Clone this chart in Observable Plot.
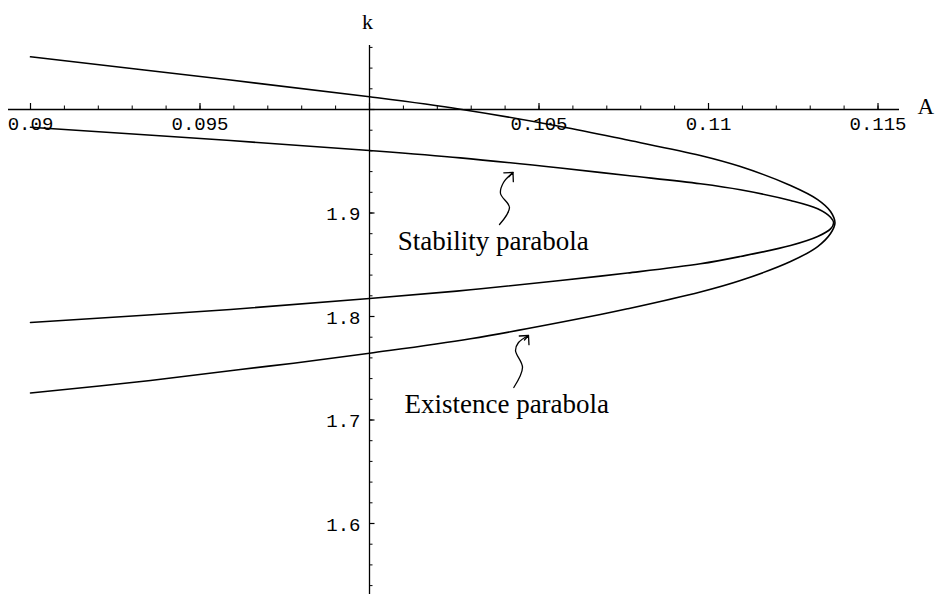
<!DOCTYPE html>
<html><head><meta charset="utf-8">
<script src="https://cdn.jsdelivr.net/npm/d3@7"></script>
<script src="https://cdn.jsdelivr.net/npm/@observablehq/plot@0.6"></script>
<style>html,body{margin:0;padding:0;background:#fff;} #chart svg{display:block;}</style>
</head><body><div id="chart"></div>
<script>
// Existence parabola (outer), traced from upper-left round the vertex to lower-left
const existenceA = [0.09, 0.0959, 0.1, 0.10268, 0.10563, 0.10761, 0.10976, 0.11094, 0.11242, 0.11322, 0.1136, 0.11373,
                    0.1136, 0.11322, 0.11242, 0.11094, 0.10976, 0.10761, 0.10681, 0.10298, 0.1, 0.09776, 0.09619, 0.09354, 0.09];
const existenceK = [2.0509, 2.0285, 2.0123, 2.0003, 1.9836, 1.9705, 1.9556, 1.9449, 1.9266, 1.9130, 1.9015, 1.8903,
                    1.8802, 1.8676, 1.8531, 1.8348, 1.8237, 1.8074, 1.8019, 1.7785, 1.7645, 1.7549, 1.7488, 1.7382, 1.7261];
// Stability parabola (inner)
const stabilityA = [0.09, 0.0959, 0.1, 0.10268, 0.10563, 0.10761, 0.10976, 0.11094, 0.11242, 0.11322, 0.1136, 0.11369,
                    0.1136, 0.11322, 0.11242, 0.11094, 0.10976, 0.10761, 0.10563, 0.10298, 0.1, 0.0959, 0.09];
const stabilityK = [1.9829, 1.9700, 1.9604, 1.9533, 1.9435, 1.9362, 1.9282, 1.9224, 1.9121, 1.9041, 1.8959, 1.8905,
                    1.8847, 1.8773, 1.8686, 1.8580, 1.8509, 1.8420, 1.8348, 1.8258, 1.8174, 1.8068, 1.7942];
// Annotation labels and their squiggly pointer arrows (data coordinates)
const labelText = ["Stability parabola", "Existence parabola"];
const labelA = [0.10083, 0.10103];
const labelK = [1.8638, 1.7063];
const stabArrowA = [0.103835, 0.10413, 0.103864, 0.103953, 0.104233];
const stabArrowK = [1.88889, 1.90531, 1.91884, 1.92947, 1.93913];
const exArrowA = [0.104257, 0.104513, 0.104307, 0.104395, 0.10469];
const exArrowK = [1.7314, 1.75072, 1.76715, 1.77488, 1.78164];
// Axis ticks and labels
const xMajor = [0.09, 0.095, 0.1, 0.105, 0.11, 0.115];
const xLabels = [0.09, 0.095, 0.105, 0.11, 0.115];
const xMinor = d3.range(90, 116).map(i => i / 1000);
const yMajor = [1.6, 1.7, 1.8, 1.9, 2.0];
const yLabels = [1.6, 1.7, 1.8, 1.9];
const yMinor = d3.range(77, 104).map(i => i / 50);
const axisA = 0.1, axisK = 2.0;

const W = 936, H = 594, mL = 8, mR = 37, mT = 45, mB = 0;
const A0 = 0.089351, A1 = 0.115634, K0 = 1.5314, K1 = 2.06184;
const kPerPx = (K1 - K0) / (H - mT - mB);
const aPerPx = (A1 - A0) / (W - mL - mR);

const zip = (a, k) => a.map((v, i) => ({A: v, k: k[i]}));
const existence = zip(existenceA, existenceK);
const stability = zip(stabilityA, stabilityK);
const stabArrow = zip(stabArrowA, stabArrowK);
const exArrow = zip(exArrowA, exArrowK);
const labels = labelText.map((t, i) => ({t, A: labelA[i], k: labelK[i]}));

const mono = "'Liberation Mono', 'Courier New', monospace";
const serif = "'Liberation Serif', 'Times New Roman', serif";

const chart = Plot.plot({
  width: W, height: H,
  marginLeft: mL, marginRight: mR, marginTop: mT, marginBottom: mB,
  x: {domain: [A0, A1], axis: null},
  y: {domain: [K0, K1], axis: null},
  style: {background: "white", color: "black"},
  marks: [
    Plot.ruleY([axisK], {strokeWidth: 1.3}),
    Plot.ruleX([axisA], {strokeWidth: 1.3}),
    Plot.ruleX(xMinor, {x: d => d, y1: axisK, y2: axisK + 3.5 * kPerPx, strokeWidth: 1}),
    Plot.ruleX(xMajor, {x: d => d, y1: axisK, y2: axisK + 6 * kPerPx, strokeWidth: 1.2}),
    Plot.ruleY(yMinor, {y: d => d, x1: axisA, x2: axisA + 3.5 * aPerPx, strokeWidth: 1}),
    Plot.ruleY(yMajor, {y: d => d, x1: axisA, x2: axisA + 5.5 * aPerPx, strokeWidth: 1.2}),
    Plot.text(xLabels, {x: d => d, y: axisK, text: d => String(d), dy: 14, fontFamily: mono, fontSize: 19}),
    Plot.text(yLabels, {x: axisA, y: d => d, text: d => String(d), dx: -9, dy: 1, textAnchor: "end", fontFamily: mono, fontSize: 19}),
    Plot.text(["k"], {x: axisA, y: K1, text: d => d, dx: -2, dy: -17, lineAnchor: "bottom", fontFamily: serif, fontSize: 22}),
    Plot.text(["A"], {x: A1, y: axisK, text: d => d, dx: 18, dy: 4, lineAnchor: "bottom", textAnchor: "start", fontFamily: serif, fontSize: 23}),
    Plot.line(existence, {x: "A", y: "k", curve: "catmull-rom", strokeWidth: 1.6}),
    Plot.line(stability, {x: "A", y: "k", curve: "catmull-rom", strokeWidth: 1.6}),
    Plot.line(stabArrow, {x: "A", y: "k", curve: "catmull-rom", strokeWidth: 1.3}),
    Plot.line(exArrow, {x: "A", y: "k", curve: "catmull-rom", strokeWidth: 1.3}),
    Plot.vector([stabArrow[stabArrow.length - 1]], {x: "A", y: "k", length: 6, rotate: 43, r: 19, anchor: "end", strokeWidth: 1.3}),
    Plot.vector([exArrow[exArrow.length - 1]], {x: "A", y: "k", length: 6, rotate: 42, r: 19, anchor: "end", strokeWidth: 1.3}),
    Plot.text(labels, {x: "A", y: "k", text: "t", textAnchor: "start", lineAnchor: "bottom", fontFamily: serif, fontSize: 27})
  ]
});
document.getElementById("chart").appendChild(chart);
</script>
</body></html>
